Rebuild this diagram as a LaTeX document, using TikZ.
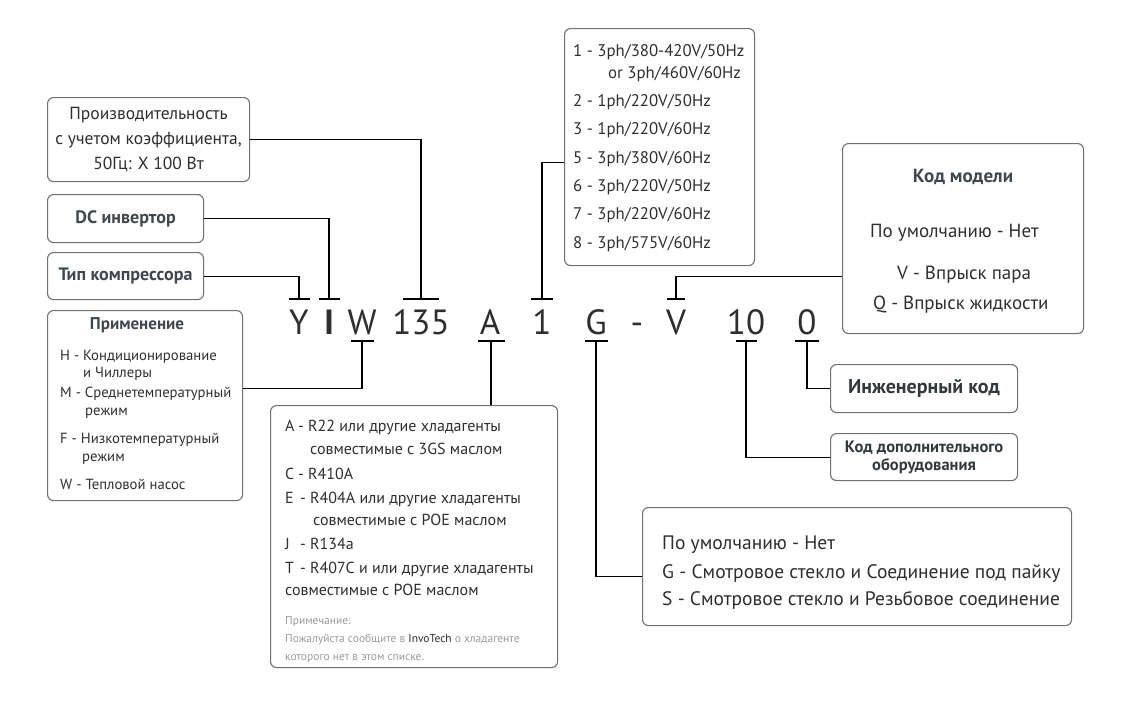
\documentclass[tikz,border=0pt]{standalone}
\usepackage{fontspec}
\setmainfont{PT Sans}
\definecolor{boxc}{HTML}{6E7072}
\definecolor{txtc}{HTML}{2E2E2E}
\definecolor{headc}{HTML}{3F484E}
\definecolor{notec}{HTML}{9A9A9A}
\begin{document}
\begin{tikzpicture}[x=1pt,y=-1pt,
  box/.style={draw=boxc, line width=1.1pt, rounded corners=6pt, inner sep=0pt, anchor=north west},
  txt/.style={anchor=base west, inner sep=0pt, text=txtc},
  code/.style={anchor=base, inner sep=0pt, text=txtc, font=\fontsize{35}{38}\selectfont},
  conn/.style={draw=black, line width=1.1pt},
  f13/.style={font=\fontsize{14.7}{17}\selectfont},
  f14/.style={font=\fontsize{16}{19}\selectfont},
  fv/.style={font=\fontsize{16.8}{19}\selectfont},
  f16/.style={font=\fontsize{19}{22}\selectfont},
  fg/.style={font=\fontsize{19.5}{22}\selectfont},
  note/.style={anchor=base west, inner sep=0pt, text=notec, font=\fontsize{11.5}{13}\selectfont},
  head/.style={text=headc, font=\fontsize{18}{20}\selectfont\bfseries}
]
\useasboundingbox (0,0) rectangle (1137,710);

% ---------- boxes ----------
\node[box, minimum width=202pt, minimum height=84pt, align=center, text=txtc,
  font=\fontsize{17.5}{25}\selectfont] (prod) at (47,97)
  {Производительность\\с учетом коэффициента,\\50Гц: X 100 Вт};
\node[box, minimum width=156pt, minimum height=48pt, head] (dc) at (47,194) {DC инвертор};
\node[box, minimum width=156pt, minimum height=47pt, head] (typ) at (47,252) {Тип компрессора};
\node[box, minimum width=195pt, minimum height=190pt] (prim) at (47,310) {};
\node[box, minimum width=287pt, minimum height=262pt] (abox) at (270,405) {};
\node[box, minimum width=190pt, minimum height=237pt] (volt) at (564,28) {};
\node[box, minimum width=241pt, minimum height=190pt] (model) at (842,143) {};
\node[box, minimum width=187pt, minimum height=48pt, text=headc!80!black,
  font=\fontsize{20}{22}\selectfont\bfseries] (eng) at (830,364) {Инженерный код};
\node[box, minimum width=187pt, minimum height=47pt, text=headc!80!black, align=center,
  font=\fontsize{16.5}{18}\selectfont\bfseries] (dop) at (830,433) {Код дополнительного\\оборудования};
\node[box, minimum width=429pt, minimum height=118pt] (gbox) at (642,507) {};

% ---------- code line ----------
\node[code] (cY) at (299,334) {Y};
\node[code, font=\fontsize{35}{38}\selectfont\bfseries] (cI) at (329,334) {I};
\node[code] (cW) at (362,334) {W};
\node[code] (c135) at (421,334) {135};
\node[code] (cA) at (490,334) {A};
\node[code] (c1) at (542,334) {1};
\node[code] (cG) at (596,334) {G};
\node[code] (cdash) at (637,334) {-};
\node[code] (cV) at (676,334) {V};
\node[code] (c10) at (746,334) {10};
\node[code] (c0) at (807,334) {0};

% tick coordinates
\coordinate (tY) at (299,299);
\coordinate (tI) at (329,299);
\coordinate (t135) at (421,299);
\coordinate (t1) at (542,299);
\coordinate (tV) at (676,299);
\coordinate (tW) at (362,341);
\coordinate (tA) at (491,341);
\coordinate (tG) at (596,341);
\coordinate (t10) at (746,341);
\coordinate (t0) at (807,341);

\draw[conn] ([xshift=-10.5pt]tY) -- ([xshift=10.5pt]tY);
\draw[conn] ([xshift=-10.5pt]tI) -- ([xshift=10.5pt]tI);
\draw[conn] ([xshift=-18pt]t135) -- ([xshift=18pt]t135);
\draw[conn] ([xshift=-11pt]t1) -- ([xshift=11pt]t1);
\draw[conn] ([xshift=-9pt]tV) -- ([xshift=9pt]tV);
\draw[conn] ([xshift=-11.5pt]tW) -- ([xshift=11.5pt]tW);
\draw[conn] ([xshift=-13.5pt]tA) -- ([xshift=13.5pt]tA);
\draw[conn] ([xshift=-11.5pt]tG) -- ([xshift=11.5pt]tG);
\draw[conn] ([xshift=-10.5pt]t10) -- ([xshift=10.5pt]t10);
\draw[conn] ([xshift=-12pt]t0) -- ([xshift=12pt]t0);

% ---------- connectors ----------
\draw[conn] (prod.east) -| (t135);
\draw[conn] (dc.east) -| (tI);
\draw[conn] (typ.east) -| (tY);
\draw[conn] ([yshift=17pt]prim.east) -| (tW);
\draw[conn] (tA) -- (tA |- abox.north);
\draw[conn] ([yshift=-15.5pt]volt.west) -| (t1);
\draw[conn] ([yshift=-38pt]model.west) -| (tV);
\draw[conn] (eng.west) -| (t0);
\draw[conn] (dop.west) -| (t10);
\draw[conn] ([yshift=-10pt]gbox.west) -| (tG);

% ---------- Применение ----------
\node[head, anchor=base, inner sep=0pt, font=\fontsize{17}{20}\selectfont\bfseries] (primh) at (137,329) {Применение};
\node[txt, f13] (p1) at (60,360) {H - Кондиционирование};
\node[txt, f13] (p2) at (83,377) {и Чиллеры};
\node[txt, f13] (p3) at (60,397) {M - Среднетемпературный};
\node[txt, f13] (p4) at (85,415) {режим};
\node[txt, f13] (p5) at (60,443) {F - Низкотемпературный};
\node[txt, f13] (p6) at (82,461) {режим};
\node[txt, f13] (p7) at (60,489) {W - Тепловой насос};

% ---------- хладагенты ----------
\node[txt, f14] (a1) at (285,431) {\makebox[13pt][l]{A}- R22 или другие хладагенты};
\node[txt, f14] (a2) at (310,454) {совместимые с 3GS маслом};
\node[txt, f14] (a3) at (285,479) {\makebox[13pt][l]{C}- R410A};
\node[txt, f14] (a4) at (285,503) {\makebox[15pt][l]{E}- R404A или другие хладагенты};
\node[txt, f14] (a5) at (313,525) {совместимые с POE маслом};
\node[txt, f14] (a6) at (285,549) {\makebox[15pt][l]{J}- R134a};
\node[txt, f14] (a7) at (285,573) {\makebox[15pt][l]{T}- R407C и или другие хладагенты};
\node[txt, f14] (a8) at (285,595) {совместимые с POE маслом};
\node[note] (n1) at (285,624) {Примечание:};
\node[note] (n2) at (285,642) {Пожалуйста сообщите в \textcolor{txtc}{InvoTech} о хладагенте};
\node[note] (n3) at (285,660) {которого нет в этом списке.};

% ---------- напряжение ----------
\node[txt, fv] (v1) at (573,56) {1 - 3ph/380-420V/50Hz};
\node[txt, fv] (v1b) at (608,78) {or 3ph/460V/60Hz};
\node[txt, fv] (v2) at (573,106) {2 - 1ph/220V/50Hz};
\node[txt, fv] (v3) at (573,134) {3 - 1ph/220V/60Hz};
\node[txt, fv] (v5) at (573,163) {5 - 3ph/380V/60Hz};
\node[txt, fv] (v6) at (573,191) {6 - 3ph/220V/50Hz};
\node[txt, fv] (v7) at (573,219) {7 - 3ph/220V/60Hz};
\node[txt, fv] (v8) at (573,248) {8 - 3ph/575V/60Hz};

% ---------- Код модели ----------
\node[anchor=base, inner sep=0pt, text=headc, font=\fontsize{19}{22}\selectfont\bfseries] (mh) at (963,182) {Код модели};
\node[txt, f16] (m1) at (870,237) {По умолчанию - Нет};
\node[txt, f16] (m2) at (897,279) {V - Впрыск пара};
\node[txt, f16] (m3) at (873,309) {Q - Впрыск жидкости};

% ---------- G ----------
\node[txt, fg] (g1) at (662,549) {По умолчанию - Нет};
\node[txt, fg] (g2) at (662,578) {G - Смотровое стекло и Соединение под пайку};
\node[txt, fg] (g3) at (662,605) {S - Смотровое стекло и Резьбовое соединение};
\end{tikzpicture}
\end{document}
